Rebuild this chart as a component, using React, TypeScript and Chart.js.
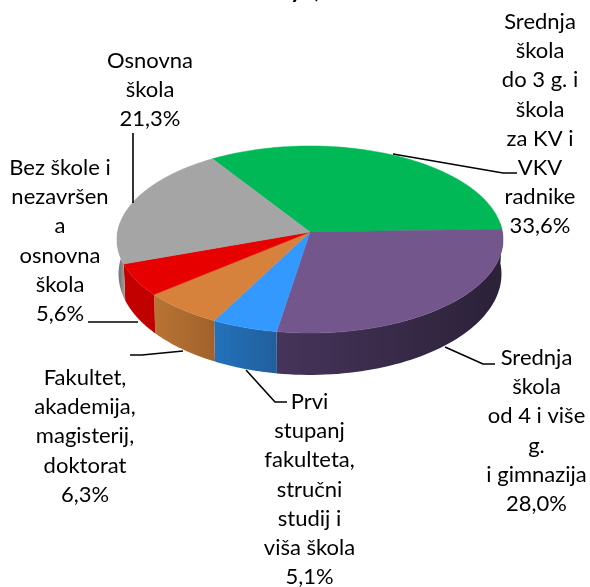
import React, { useEffect, useRef } from "react";
import { Chart, registerables } from "chart.js";

Chart.register(...registerables);

const categories: string[][] = [
  ["Srednja", "škola", "do 3 g. i", "škola", "za KV i", "VKV", "radnike"],
  ["Srednja", "škola", "od 4 i više", "g.", "i gimnazija"],
  ["Prvi", "stupanj", "fakulteta,", "stručni", "studij i", "viša škola"],
  ["Fakultet,", "akademija,", "magisterij,", "doktorat"],
  ["Bez škole i", "nezavršen", "a", "osnovna", "škola"],
  ["Osnovna", "škola"],
];
const shares = [33.6, 28.0, 5.1, 6.3, 5.6, 21.3];

const topColors = ["#00b956", "#72568c", "#3399ff", "#d6823c", "#e60000", "#a5a5a5"];
const wallFrom = ["#008a40", "#46345a", "#2372bb", "#ba7434", "#c40000", "#7b7b7b"];
const wallTo = ["#008a40", "#2b2138", "#215f9c", "#a0622c", "#c00000", "#989898"];

const labelCentreX = [540, 536.5, 309.5, 85, 60, 150];
const labelFirstY = [22, 358, 402, 378, 168, 61];
const leaders: number[][][] = [
  [[393, 154], [503, 173], [517, 173]],
  [[445, 347], [483, 364], [495, 364]],
  [[246, 370], [275, 402], [287, 402]],
  [[183, 351], [142, 355], [130, 355]],
  [[138, 322], [88, 322]],
  [[133, 203], [133, 133]],
];

const TILT = 0.483;
const PERSPECTIVE = 0.0802;
const DEPTH = 34;
const LINE_HEIGHT = 29.2;
const FONT = '22px Lato, "Noto Sans", sans-serif';

const threeD = {
  id: "threeD",
  beforeDatasetDraw(chart: any) {
    const ctx: CanvasRenderingContext2D = chart.ctx;
    const arcs = chart.getDatasetMeta(0).data;
    const pt = (el: any, a: number, low: boolean) => {
      const w = 1 / (1 - PERSPECTIVE * Math.sin(a));
      const xs = low ? 0.992 : 1;
      return [
        el.x + el.outerRadius * Math.cos(a) * w * xs,
        el.y + el.outerRadius * TILT * Math.sin(a) * w + (low ? DEPTH * Math.pow(w, 2.5) : 0),
      ];
    };
    // side walls
    arcs.forEach((el: any, i: number) => {
      const s = Math.max(el.startAngle, -0.1);
      const e = Math.min(el.endAngle, Math.PI + 0.1);
      if (e <= s) return;
      const n = 60;
      const first = pt(el, s, false);
      const last = pt(el, e, false);
      const g = ctx.createLinearGradient(Math.min(first[0], last[0]), 0, Math.max(first[0], last[0]), 0);
      const reversed = first[0] > last[0];
      g.addColorStop(0, reversed ? wallFrom[i] : wallTo[i]);
      g.addColorStop(1, reversed ? wallTo[i] : wallFrom[i]);
      ctx.beginPath();
      for (let k = 0; k <= n; k++) {
        const p = pt(el, s + ((e - s) * k) / n, false);
        k ? ctx.lineTo(p[0], p[1]) : ctx.moveTo(p[0], p[1]);
      }
      for (let k = n; k >= 0; k--) {
        const p = pt(el, s + ((e - s) * k) / n, true);
        ctx.lineTo(p[0], p[1]);
      }
      ctx.closePath();
      ctx.fillStyle = g;
      ctx.fill();
    });
    // top face
    arcs.forEach((el: any) => {
      const n = 120;
      ctx.beginPath();
      ctx.moveTo(el.x, el.y);
      for (let k = 0; k <= n; k++) {
        const p = pt(el, el.startAngle + ((el.endAngle - el.startAngle) * k) / n, false);
        ctx.lineTo(p[0], p[1]);
      }
      ctx.closePath();
      ctx.fillStyle = el.options.backgroundColor;
      ctx.strokeStyle = el.options.backgroundColor;
      ctx.lineWidth = 0.5;
      ctx.fill();
      ctx.stroke();
    });
    return false;
  },
  afterDraw(chart: any) {
    const ctx: CanvasRenderingContext2D = chart.ctx;
    ctx.save();
    ctx.strokeStyle = "#000";
    ctx.lineWidth = 1.6;
    leaders.forEach((line) => {
      ctx.beginPath();
      line.forEach(([x, y], k) => (k ? ctx.lineTo(x, y) : ctx.moveTo(x, y)));
      ctx.stroke();
    });
    ctx.fillStyle = "#000";
    ctx.font = FONT;
    ctx.textAlign = "center";
    ctx.textBaseline = "middle";
    categories.forEach((lines, i) => {
      const all = [...lines, shares[i].toFixed(1).replace(".", ",") + "%"];
      all.forEach((t, k) => ctx.fillText(t, labelCentreX[i], labelFirstY[i] + k * LINE_HEIGHT));
    });
    ctx.font = 'bold 24px Lato, "Noto Sans", sans-serif';
    ctx.textBaseline = "alphabetic";
    ctx.fillText("y  ,", 305, -2);
    ctx.restore();
  },
};

export default function App() {
  const ref = useRef<HTMLCanvasElement>(null);
  useEffect(() => {
    const chart = new Chart(ref.current!, {
      type: "pie",
      data: {
        labels: categories.map((c) => c.join(" ")),
        datasets: [{ data: shares, backgroundColor: topColors, borderWidth: 0, clip: false } as any],
      },
      options: {
        responsive: false,
        animation: false,
        rotation: -32.8,
        layout: { padding: { left: 117.6, right: 87.6, top: 39.6, bottom: 162.6 } },
        plugins: { legend: { display: false }, tooltip: { enabled: false } },
      },
      plugins: [threeD],
    });
    return () => chart.destroy();
  }, []);
  return (
    <canvas
      ref={ref}
      width={590}
      height={587}
      style={{ position: "absolute", left: 0, top: 0, display: "block", background: "#fff" }}
    />
  );
}
